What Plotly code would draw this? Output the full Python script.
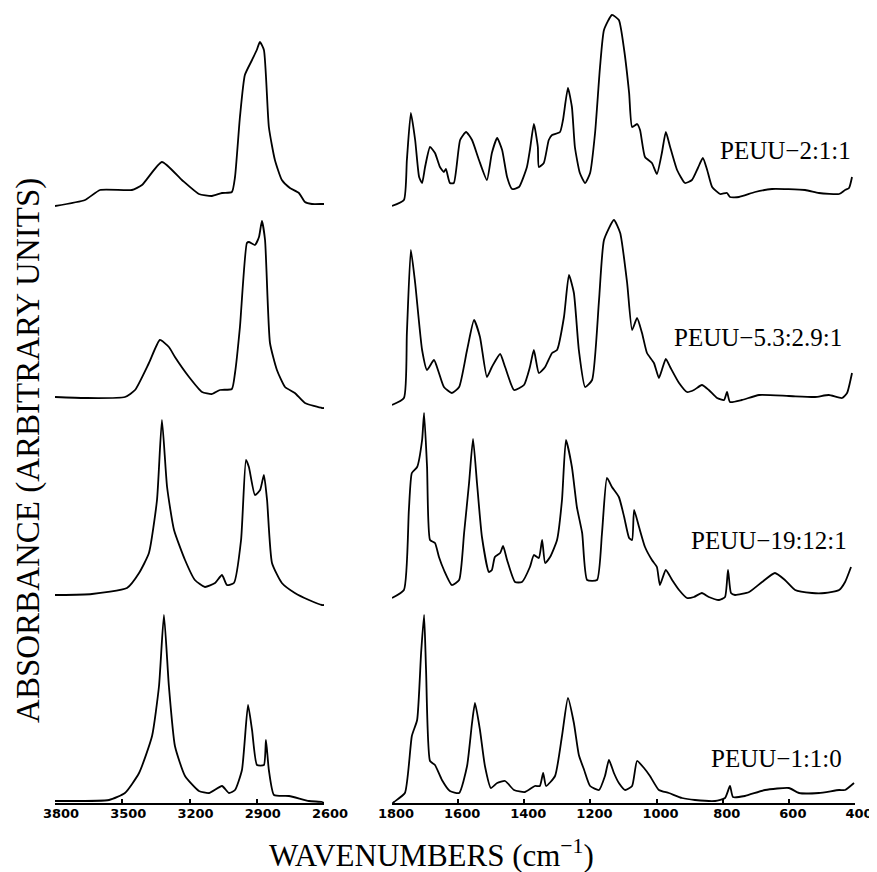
import plotly.graph_objects as go

# ---------------- data (absorbance, arbitrary units) ----------------
names = ["PEUU−2:1:1", "PEUU−5.3:2.9:1", "PEUU−19:12:1", "PEUU−1:1:0"]
offsets = [5.97, 4.03, 2.06, 0.03]

# high-frequency region (3800-2600 cm-1)
wn_hi_1 = [3800, 3666, 3599, 3457, 3412, 3323, 3234, 3158, 3100, 3055, 3011, 2997, 2975, 2953, 2921, 2900,
           2886, 2868, 2846, 2819, 2788, 2752, 2712, 2685, 2654, 2609, 2600]
ab_hi_1 = [0.00, 0.06, 0.16, 0.16, 0.21, 0.44, 0.26, 0.12, 0.10, 0.13, 0.14, 0.29, 0.89, 1.31, 1.46, 1.56,
           1.64, 1.56, 0.79, 0.46, 0.26, 0.18, 0.13, 0.04, 0.02, 0.02, 0.02]

wn_hi_2 = [3800, 3666, 3488, 3443, 3381, 3332, 3292, 3265, 3202, 3144, 3100, 3064, 3011, 2997, 2975, 2944,
           2935, 2908, 2890, 2877, 2863, 2841, 2810, 2774, 2730, 2685, 2609, 2600]
ab_hi_2 = [0.03, 0.02, 0.03, 0.10, 0.37, 0.60, 0.53, 0.43, 0.23, 0.08, 0.06, 0.10, 0.11, 0.27, 0.73, 1.57,
           1.58, 1.55, 1.63, 1.79, 1.60, 0.57, 0.30, 0.13, 0.07, -0.03, -0.08, -0.08]

wn_hi_3 = [3800, 3782, 3635, 3479, 3425, 3381, 3345, 3323, 3300, 3269, 3220, 3176, 3131, 3086, 3055, 3033,
           3002, 2970, 2948, 2935, 2908, 2885, 2868, 2854, 2832, 2788, 2730, 2667, 2609, 2600]
ab_hi_3 = [0.02, 0.02, 0.03, 0.09, 0.24, 0.44, 0.97, 1.77, 1.10, 0.67, 0.37, 0.17, 0.10, 0.14, 0.22, 0.12,
           0.14, 0.57, 1.37, 1.30, 1.02, 1.07, 1.22, 0.97, 0.34, 0.14, 0.04, -0.03, -0.08, -0.08]

wn_hi_4 = [3800, 3782, 3559, 3488, 3425, 3367, 3336, 3314, 3292, 3265, 3220, 3158, 3113, 3055, 3024, 2997,
           2966, 2939, 2921, 2899, 2868, 2859, 2846, 2823, 2756, 2667, 2609, 2600]
ab_hi_4 = [-0.01, -0.01, 0.00, 0.07, 0.27, 0.64, 1.14, 1.85, 1.14, 0.54, 0.24, 0.09, 0.07, 0.14, 0.07, 0.10,
           0.30, 0.95, 0.70, 0.35, 0.35, 0.60, 0.30, 0.05, 0.04, -0.01, -0.02, -0.03]

# fingerprint region (1800-400 cm-1)
wn_lo_1 = [1800, 1764, 1755, 1743, 1730, 1718, 1709, 1700, 1685, 1670, 1655, 1643, 1637, 1625, 1613, 1594,
           1576, 1558, 1537, 1513, 1498, 1482, 1467, 1452, 1437, 1416, 1392, 1383, 1371, 1359, 1356, 1341,
           1326, 1316, 1292, 1283, 1268, 1256, 1247, 1232, 1216, 1201, 1186, 1171, 1159, 1135, 1114, 1098,
           1083, 1074, 1059, 1050, 1035, 1014, 999, 984, 972, 959, 938, 914, 893, 875, 860, 847, 832, 808,
           787, 778, 751, 702, 651, 551, 509, 448, 430, 418, 409]
ab_lo_1 = [0.00, 0.06, 0.46, 0.93, 0.66, 0.29, 0.23, 0.39, 0.59, 0.53, 0.39, 0.34, 0.37, 0.23, 0.23, 0.66,
           0.74, 0.66, 0.46, 0.26, 0.53, 0.68, 0.56, 0.29, 0.17, 0.19, 0.39, 0.56, 0.82, 0.59, 0.39, 0.43,
           0.66, 0.71, 0.74, 0.86, 1.18, 0.99, 0.59, 0.33, 0.23, 0.33, 0.73, 1.39, 1.76, 1.91, 1.86, 1.56,
           1.13, 0.79, 0.82, 0.76, 0.49, 0.43, 0.32, 0.53, 0.74, 0.59, 0.36, 0.23, 0.26, 0.38, 0.48, 0.36,
           0.19, 0.12, 0.13, 0.09, 0.09, 0.14, 0.17, 0.16, 0.13, 0.12, 0.16, 0.18, 0.29]

wn_lo_2 = [1800, 1764, 1755, 1743, 1730, 1709, 1694, 1673, 1658, 1643, 1619, 1597, 1573, 1552, 1534, 1513,
           1498, 1473, 1458, 1431, 1401, 1383, 1371, 1356, 1337, 1316, 1301, 1280, 1265, 1250, 1235, 1216,
           1195, 1174, 1159, 1129, 1110, 1089, 1074, 1059, 1044, 1029, 1008, 993, 984, 972, 959, 932, 908,
           887, 863, 842, 817, 796, 787, 778, 742, 690, 600, 521, 479, 439, 424, 409]
ab_lo_2 = [-0.05, 0.02, 0.67, 1.50, 1.17, 0.50, 0.30, 0.40, 0.27, 0.13, 0.07, 0.13, 0.50, 0.80, 0.63, 0.23,
           0.33, 0.46, 0.33, 0.10, 0.15, 0.33, 0.50, 0.27, 0.33, 0.47, 0.50, 0.83, 1.25, 1.07, 0.50, 0.13,
           0.20, 1.00, 1.60, 1.80, 1.67, 1.17, 0.70, 0.82, 0.67, 0.47, 0.37, 0.22, 0.30, 0.41, 0.33, 0.17, 0.08,
           0.10, 0.15, 0.10, 0.02, 0.00, 0.08, -0.02, 0.00, 0.05, 0.04, 0.03, 0.05, 0.02, 0.07, 0.27]

wn_lo_3 = [1800, 1764, 1749, 1740, 1724, 1709, 1703, 1694, 1685, 1670, 1658, 1643, 1619, 1597, 1582, 1567,
           1555, 1543, 1528, 1507, 1498, 1489, 1473, 1464, 1452, 1428, 1407, 1383, 1371, 1356, 1346, 1337,
           1322, 1301, 1286, 1274, 1256, 1241, 1225, 1210, 1180, 1165, 1150, 1135, 1114, 1098, 1083, 1074,
           1068, 1053, 1035, 1014, 999, 990, 972, 953, 932, 908, 887, 863, 842, 811, 793, 784, 775, 763,
           720, 681, 642, 612, 581, 530, 491, 448, 430, 412]
ab_lo_3 = [-0.01, 0.07, 0.87, 1.24, 1.30, 1.57, 1.84, 1.30, 0.57, 0.54, 0.40, 0.27, 0.12, 0.17, 0.64, 1.14,
           1.58, 1.14, 0.60, 0.25, 0.27, 0.40, 0.44, 0.51, 0.37, 0.15, 0.15, 0.30, 0.42, 0.39, 0.57, 0.34,
           0.40, 0.57, 0.97, 1.57, 1.30, 0.90, 0.64, 0.17, 0.17, 0.64, 1.19, 1.10, 1.00, 0.80, 0.59, 0.57,
           0.87, 0.70, 0.50, 0.37, 0.30, 0.12, 0.27, 0.17, 0.07, -0.01, 0.00, 0.04, 0.00, -0.03, 0.00, 0.27,
           0.04, 0.02, 0.05, 0.15, 0.24, 0.17, 0.07, 0.04, 0.04, 0.07, 0.15, 0.30]

wn_lo_4 = [1800, 1794, 1761, 1740, 1724, 1712, 1703, 1697, 1685, 1670, 1649, 1625, 1597, 1573, 1558, 1549,
           1534, 1519, 1501, 1482, 1458, 1431, 1398, 1368, 1353, 1343, 1334, 1307, 1286, 1268, 1250, 1235,
           1219, 1201, 1174, 1156, 1144, 1129, 1114, 1095, 1074, 1059, 1038, 1020, 993, 963, 923, 884, 823,
           793, 778, 769, 733, 672, 600, 569, 509, 448, 430, 403]
ab_lo_4 = [-0.04, -0.02, 0.07, 0.64, 0.80, 1.47, 1.85, 1.30, 0.39, 0.35, 0.20, 0.09, 0.07, 0.34, 0.77, 0.97,
           0.70, 0.34, 0.12, 0.17, 0.19, 0.10, 0.08, 0.14, 0.14, 0.27, 0.14, 0.24, 0.64, 1.02, 0.77, 0.45,
           0.30, 0.14, 0.10, 0.24, 0.40, 0.27, 0.17, 0.10, 0.14, 0.39, 0.32, 0.24, 0.10, 0.07, 0.02, 0.00, -0.01,
           0.02, 0.14, 0.03, 0.04, 0.10, 0.12, 0.07, 0.07, 0.10, 0.10, 0.17]

hi_ticks = [3800, 3500, 3200, 2900, 2600]
lo_ticks = [1800, 1600, 1400, 1200, 1000, 800, 600, 400]

hi_wn = [wn_hi_1, wn_hi_2, wn_hi_3, wn_hi_4]
hi_ab = [ab_hi_1, ab_hi_2, ab_hi_3, ab_hi_4]
lo_wn = [wn_lo_1, wn_lo_2, wn_lo_3, wn_lo_4]
lo_ab = [ab_lo_1, ab_lo_2, ab_lo_3, ab_lo_4]

# ---------------- figure ----------------
fig = go.Figure()
line = dict(color="black", width=1.8, shape="spline", smoothing=0.5)
for i in range(4):
    fig.add_trace(go.Scatter(x=hi_wn[i], y=[v + offsets[i] for v in hi_ab[i]], mode="lines",
                             line=line, xaxis="x", yaxis="y", showlegend=False, hoverinfo="skip"))
    fig.add_trace(go.Scatter(x=lo_wn[i], y=[v + offsets[i] for v in lo_ab[i]], mode="lines",
                             line=line, xaxis="x2", yaxis="y2", showlegend=False, hoverinfo="skip"))

tickfont = dict(family="DejaVu Sans", size=13, color="black", weight="bold")
xcommon = dict(showline=True, linecolor="black", linewidth=2, ticks="inside", ticklen=4,
               tickcolor="black", tickwidth=1.5, showgrid=False, zeroline=False, tickfont=tickfont,
               ticklabelstandoff=-3, automargin=False)
ycommon = dict(range=[0, 7.93], visible=False, showgrid=False, zeroline=False, automargin=False)

# margins compensate for the 8px default page body margin
fig.update_layout(
    template="none",
    width=877, height=872,
    margin=dict(l=47, r=30, t=2, b=77, autoexpand=False),
    paper_bgcolor="white", plot_bgcolor="white",
    xaxis=dict(domain=[0, 0.33625], range=[3800, 2600], tickvals=hi_ticks,
               ticktext=[str(t) for t in hi_ticks], anchor="y", ticklabelshift=-6, **xcommon),
    xaxis2=dict(domain=[0.42125, 1.0], range=[1800, 400], tickvals=lo_ticks,
                ticktext=[str(t) for t in lo_ticks], anchor="y2", ticklabelshift=-4, **xcommon),
    yaxis=dict(domain=[0, 1], anchor="x", **ycommon),
    yaxis2=dict(domain=[0, 1], anchor="x2", **ycommon),
)

label_pos = [(405, 6.53), (432, 4.66), (417, 2.63), (432, 0.45)]
for name, (lx, ly) in zip(names, label_pos):
    fig.add_annotation(x=lx, y=ly, xref="x2", yref="y2", text=name, showarrow=False,
                       xanchor="right", yanchor="middle",
                       font=dict(family="Liberation Serif", size=25, color="black"))

fig.add_annotation(x=-0.034, y=0.445, xref="paper", yref="paper", text="ABSORBANCE (ARBITRARY UNITS)",
                   showarrow=False, textangle=-90, xanchor="center", yanchor="middle",
                   font=dict(family="Liberation Serif", size=33, color="black"))
fig.add_annotation(x=0.471, y=-0.064, xref="paper", yref="paper",
                   text="WAVENUMBERS (cm<sup>−1</sup>)", showarrow=False,
                   xanchor="center", yanchor="middle",
                   font=dict(family="Liberation Serif", size=31, color="black"))

fig.write_html("out.html")
